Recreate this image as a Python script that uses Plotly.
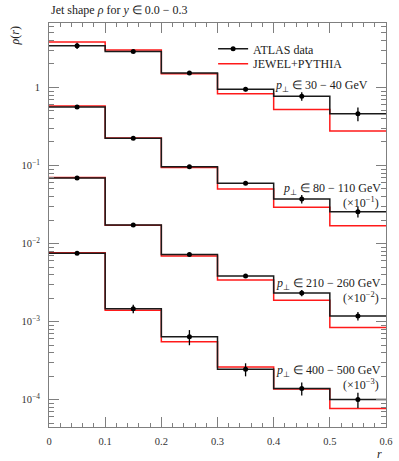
import plotly.graph_objects as go
import numpy as np

# ---- data ----
r_edges = [0.0, 0.1, 0.2, 0.3, 0.4, 0.5, 0.6]
r_centers = [0.05, 0.15, 0.25, 0.35, 0.45, 0.55]

pt_labels = ["30 − 40", "80 − 110", "210 − 260", "400 − 500"]
scale_exp = [0, -1, -2, -3]

atlas_30_40 = [3.43, 2.90, 1.53, 0.95, 0.77, 0.46]
atlas_80_110 = [5.6, 2.24, 0.96, 0.593, 0.372, 0.256]
atlas_210_260 = [6.9, 1.733, 0.724, 0.383, 0.232, 0.118]
atlas_400_500 = [7.49, 1.456, 0.637, 0.245, 0.139, 0.100]

jewel_30_40 = [3.83, 3.02, 1.50, 0.83, 0.52, 0.277]
jewel_80_110 = [5.8, 2.25, 0.94, 0.50, 0.292, 0.169]
jewel_210_260 = [7.0, 1.72, 0.69, 0.34, 0.187, 0.084]
jewel_400_500 = [7.6, 1.40, 0.55, 0.262, 0.137, 0.0766]

# relative uncertainties of the ATLAS points (%)
err_30_40 = [9, 3, 3, 6, 12.5, 20]
err_80_110 = [3, 3, 3, 4.5, 12.5, 16]
err_210_260 = [3, 3, 3, 4.5, 9, 12.5]
err_400_500 = [3, 12.5, 22, 19, 19, 22]

atlas = [atlas_30_40, atlas_80_110, atlas_210_260, atlas_400_500]
jewel = [jewel_30_40, jewel_80_110, jewel_210_260, jewel_400_500]
errs = [err_30_40, err_80_110, err_210_260, err_400_500]

FONT = "Liberation Serif"
BLACK = "#1a1a1a"
RED = "#ff1a1a"
AXC = "#7f7f7f"

fig = go.Figure()

for i in range(4):
    s = 10.0 ** scale_exp[i]
    a = [v * s for v in atlas[i]]
    j = [v * s for v in jewel[i]]
    e = [v * p / 100.0 for v, p in zip(a, errs[i])]
    fig.add_trace(go.Scatter(x=r_edges, y=j + [j[-1]], mode="lines", line_shape="hv",
                             line=dict(color=RED, width=1.5), showlegend=False, hoverinfo="skip"))
    fig.add_trace(go.Scatter(x=r_edges, y=a + [a[-1]], mode="lines", line_shape="hv",
                             line=dict(color=BLACK, width=1.5), showlegend=False, hoverinfo="skip"))
    fig.add_trace(go.Scatter(x=r_centers, y=a, mode="markers",
                             marker=dict(color="black", size=5),
                             error_y=dict(type="data", array=e, color="black", thickness=1.3, width=0),
                             showlegend=False))

# legend entries (one legend each for precise placement)
fig.add_trace(go.Scatter(x=[None], y=[None], mode="lines+markers", name="ATLAS data",
                         line=dict(color=BLACK, width=1.5), marker=dict(color="black", size=5),
                         legend="legend"))
fig.add_trace(go.Scatter(x=[None], y=[None], mode="lines", name="JEWEL+PYTHIA",
                         line=dict(color=RED, width=1.5), legend="legend2"))

ylo, yhi = np.log10(4.45e-5), np.log10(6.7)

legfont = dict(family=FONT, size=12, color="#222")
fig.update_layout(
    width=399, height=461,
    margin=dict(l=49, r=13, t=23, b=34, autoexpand=False),
    paper_bgcolor="white", plot_bgcolor="white",
    font=dict(family=FONT, size=11, color="#222"),
    legend=dict(x=0.487, y=0.936, xanchor="left", yanchor="middle",
                bgcolor="rgba(0,0,0,0)", font=legfont),
    legend2=dict(x=0.487, y=0.899, xanchor="left", yanchor="middle",
                 bgcolor="rgba(0,0,0,0)", font=legfont),
    showlegend=True,
)

fig.update_xaxes(
    automargin=False,
    range=[0, 0.6], showgrid=False, zeroline=False,
    showline=True, linecolor=AXC, linewidth=1, mirror="ticks",
    ticks="inside", ticklen=10, tickcolor=AXC, tickwidth=1,
    tickvals=[0, 0.1, 0.2, 0.3, 0.4, 0.5, 0.6],
    ticktext=["0", "0.1", "0.2", "0.3", "0.4", "0.5", "0.6"],
    tickfont=dict(family=FONT, size=10.5, color="#333"),
    minor=dict(ticks="inside", ticklen=4, tickcolor=AXC, dtick=0.02, showgrid=False),
    ticklabelstandoff=4, ticklabeloverflow="allow",
)
fig.update_yaxes(
    automargin=False,
    type="log", range=[ylo, yhi], showgrid=False, zeroline=False,
    showline=True, linecolor=AXC, linewidth=1, mirror="ticks",
    ticks="inside", ticklen=10, tickcolor=AXC, tickwidth=1,
    tickvals=[1e-4, 1e-3, 1e-2, 1e-1, 1],
    ticktext=["10<sup>−4</sup>", "10<sup>−3</sup>", "10<sup>−2</sup>", "10<sup>−1</sup>", "1"],
    tickfont=dict(family=FONT, size=10.5, color="#333"),
    minor=dict(ticks="inside", ticklen=5, tickcolor=AXC, dtick="D1", showgrid=False),
    ticklabelstandoff=6,
)

ann = []
ann.append(dict(text="Jet shape <i>ρ</i> for <i>y</i> ∈ 0.0 − 0.3", xref="paper", yref="paper",
                x=0, y=1, xanchor="left", yanchor="bottom", yshift=4, showarrow=False,
                font=dict(family=FONT, size=12, color="#222")))
ann.append(dict(text="<i>ρ</i>(<i>r</i>)", xref="paper", yref="paper", x=0, y=1,
                xanchor="center", yanchor="top", xshift=-35, yshift=-2, textangle=-90,
                showarrow=False, font=dict(family=FONT, size=12, color="#222")))
ann.append(dict(text="<i>r</i>", xref="paper", yref="paper", x=1, y=0, xanchor="right",
                yanchor="top", xshift=-2, yshift=-18, showarrow=False,
                font=dict(family=FONT, size=12, color="#222")))

label_pos = [(0.952, 0.845), (0.99, 0.588), (0.99, 0.353), (0.99, 0.138)]
for i in range(4):
    lx, ly = label_pos[i]
    txt = "<i>p</i><sub>⊥</sub> ∈ " + pt_labels[i] + " GeV"
    ann.append(dict(text=txt, xref="paper", yref="paper", x=lx, y=ly, xanchor="right",
                    yanchor="middle", showarrow=False, font=dict(family=FONT, size=12, color="#222")))
    if scale_exp[i] != 0:
        ann.append(dict(text="(×10<sup>−%d</sup>)" % (-scale_exp[i]), xref="paper", yref="paper",
                        x=lx, y=ly, xanchor="right", yanchor="middle", yshift=-13, xshift=-2,
                        showarrow=False, font=dict(family=FONT, size=12, color="#222")))
fig.update_layout(annotations=ann)

fig.write_html("out.html", config={"displayModeBar": False},
               post_script="document.body.style.margin='0';")
